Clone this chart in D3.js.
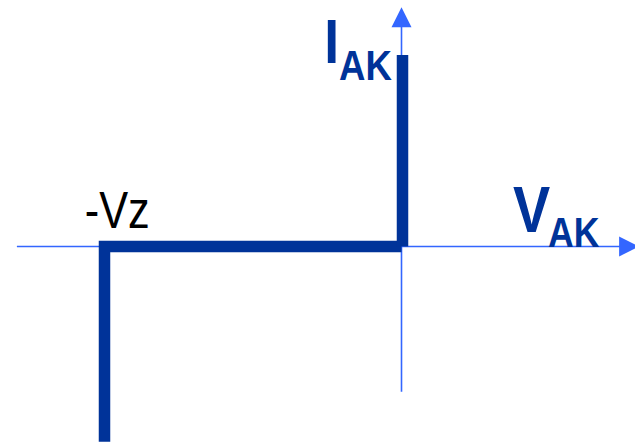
<!DOCTYPE html>
<html><head><meta charset="utf-8">
<script src="https://cdn.jsdelivr.net/npm/d3@7"></script>
<style>html,body{margin:0;padding:0;background:#fff;overflow:hidden}</style>
</head><body>
<svg id="c" width="635" height="443"></svg>
<script>
// Ideal zener characteristic (normalised units: Vz = 1, Imax = 1)
const curveReverse = [[-1, -1.02], [-1, 0], [0, 0]];   // breakdown branch + blocking
const curveForward = [[0, 0], [0, 1]];                  // forward conduction
const xAxisRange = [-1.295, 0.80];
const yAxisRange = [-0.758, 1.25];
const labels = {vz: "-Vz", i: "I", v: "V", sub: "AK"};

const svg = d3.select("#c");
const x = d3.scaleLinear().domain([-1, 0]).range([104.5, 401.5]);
const y = d3.scaleLinear().domain([0, 1]).range([246.5, 55]);

const axisColor = "#3366ff", curveColor = "#003399";

// axes
svg.append("line").attr("x1", x(xAxisRange[0])).attr("x2", x(xAxisRange[1]) - 18)
  .attr("y1", y(0)).attr("y2", y(0)).attr("stroke", axisColor).attr("stroke-width", 1.6);
svg.append("line").attr("x1", x(0)).attr("x2", x(0))
  .attr("y1", y(yAxisRange[0])).attr("y2", y(yAxisRange[1]) + 18)
  .attr("stroke", axisColor).attr("stroke-width", 1.6);
// arrowheads
const tx = x(xAxisRange[1]), ty = y(0);
svg.append("path").attr("d", `M${tx},${ty} L${tx-20},${ty-10} L${tx-20},${ty+10} Z`).attr("fill", axisColor);
const ax = x(0), ay = y(yAxisRange[1]);
svg.append("path").attr("d", `M${ax},${ay} L${ax-10},${ay+20} L${ax+10},${ay+20} Z`).attr("fill", axisColor);

// curve
const line = d3.line().x(d => x(d[0])).y(d => y(d[1]));
svg.append("path").attr("d", line(curveReverse)).attr("fill", "none")
  .attr("stroke", curveColor).attr("stroke-width", 11.5).attr("stroke-linejoin", "miter").attr("stroke-linecap", "butt");
svg.append("path").attr("d", line(curveForward)).attr("fill", "none").attr("transform", "translate(1,0)")
  .attr("stroke", curveColor).attr("stroke-width", 11.5).attr("stroke-linecap", "butt");

// labels
function txt(s, px, py, size, weight, color) {
  svg.append("text").attr("transform", `translate(${px},${py}) scale(0.85,1)`)
    .attr("font-family", "Liberation Sans, Arial, sans-serif").attr("font-size", size)
    .attr("font-weight", weight).attr("fill", color).text(s);
}
txt(labels.i, 324.3, 63, 62.8, "bold", curveColor);
txt(labels.sub, 339, 80, 43, "bold", curveColor);
txt(labels.v, 513, 232, 65.6, "bold", curveColor);
txt(labels.sub, 548, 246.5, 42, "bold", curveColor);
txt(labels.vz, 84.7, 228.3, 51, "normal", "#000");
</script>
</body></html>
